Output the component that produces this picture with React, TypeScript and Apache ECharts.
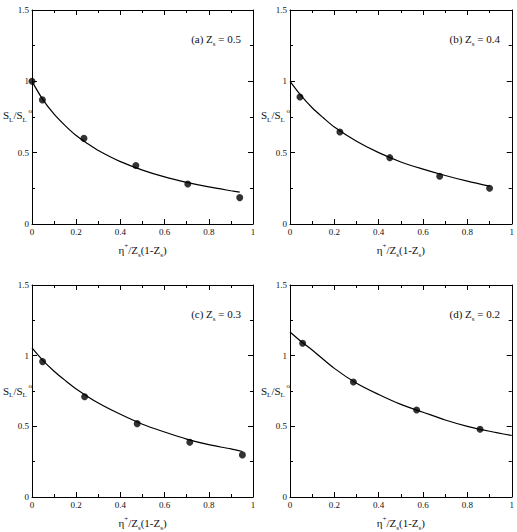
import React, { useEffect, useRef } from "react";
import * as echarts from "echarts";

// Panel (a) Zs = 0.5
const aPointsX = [0, 0.047, 0.235, 0.47, 0.705, 0.94];
const aPointsY = [1.0, 0.87, 0.6, 0.41, 0.28, 0.185];
const aCurveX = [0, 0.05, 0.1, 0.15, 0.2, 0.25, 0.3, 0.4, 0.5, 0.6, 0.7, 0.8, 0.9, 0.94];
const aCurveY = [1.0, 0.87, 0.77, 0.69, 0.62, 0.565, 0.515, 0.437, 0.378, 0.33, 0.292, 0.26, 0.233, 0.223];

// Panel (b) Zs = 0.4
const bPointsX = [0.045, 0.225, 0.45, 0.675, 0.9];
const bPointsY = [0.89, 0.645, 0.465, 0.335, 0.25];
const bCurveX = [0, 0.05, 0.1, 0.15, 0.2, 0.3, 0.4, 0.5, 0.6, 0.7, 0.8, 0.9];
const bCurveY = [1.0, 0.9, 0.815, 0.745, 0.68, 0.58, 0.5, 0.435, 0.385, 0.34, 0.3, 0.265];

// Panel (c) Zs = 0.3
const cPointsX = [0.048, 0.238, 0.476, 0.714, 0.952];
const cPointsY = [0.958, 0.709, 0.519, 0.388, 0.298];
const cCurveX = [0, 0.05, 0.1, 0.15, 0.2, 0.3, 0.4, 0.5, 0.6, 0.7, 0.8, 0.9, 0.952];
const cCurveY = [1.055, 0.965, 0.89, 0.825, 0.765, 0.665, 0.585, 0.515, 0.46, 0.41, 0.37, 0.34, 0.322];

// Panel (d) Zs = 0.2
const dPointsX = [0.057, 0.286, 0.571, 0.857];
const dPointsY = [1.088, 0.814, 0.616, 0.479];
const dCurveX = [0, 0.05, 0.1, 0.2, 0.3, 0.4, 0.5, 0.6, 0.7, 0.8, 0.9, 1.0];
const dCurveY = [1.167, 1.1, 1.04, 0.91, 0.805, 0.725, 0.655, 0.6, 0.545, 0.5, 0.465, 0.435];

const panelLabels = ["(a)", "(b)", "(c)", "(d)"];
const zsValues = ["0.5", "0.4", "0.3", "0.2"];

const FONT = "'Liberation Serif', 'Times New Roman', serif";
const INK = "#111";

const zip = (xs: number[], ys: number[]) => xs.map((x, i) => [x, ys[i]]);

export default function App() {
  const ref = useRef<HTMLDivElement>(null);

  useEffect(() => {
    if (!ref.current) return;
    const chart = echarts.init(ref.current, undefined, { renderer: "svg" });

    const panels = [
      { px: aPointsX, py: aPointsY, cx: aCurveX, cy: aCurveY, grid: { left: 32, top: 10, width: 221, height: 214 } },
      { px: bPointsX, py: bPointsY, cx: bCurveX, cy: bCurveY, grid: { left: 290, top: 10, width: 222, height: 214 } },
      { px: cPointsX, py: cPointsY, cx: cCurveX, cy: cCurveY, grid: { left: 32, top: 285, width: 221, height: 215 } },
      { px: dPointsX, py: dPointsY, cx: dCurveX, cy: dCurveY, grid: { left: 290, top: 285, width: 222, height: 215 } },
    ];

    const rich = {
      m: { fontFamily: FONT, fontSize: 11, color: INK, fill: INK, lineHeight: 16 },
      sub: { fontFamily: FONT, fontSize: 7, color: INK, fill: INK, verticalAlign: "bottom", lineHeight: 16 },
      sup: { fontFamily: FONT, fontSize: 7, color: INK, fill: INK, verticalAlign: "top", lineHeight: 16 },
    } as any;

    const grids: any[] = [];
    const xAxes: any[] = [];
    const yAxes: any[] = [];
    const series: any[] = [];
    const graphics: any[] = [];

    const axisLine = { show: true, onZero: false, lineStyle: { color: "#000", width: 1 } };
    const axisTick = { show: true, inside: true, length: 5, lineStyle: { color: "#000", width: 1 } };
    const minorTick = { show: true, splitNumber: 2, length: 3, lineStyle: { color: "#000", width: 1 } };
    const axisLabel = { show: true, fontFamily: FONT, fontSize: 9, color: INK, margin: 3 };

    panels.forEach((p, i) => {
      grids.push({ ...p.grid, containLabel: false });
      const xCommon = {
        type: "value",
        gridIndex: i,
        min: 0,
        max: 1,
        interval: 0.2,
        axisLine,
        axisTick,
        minorTick,
        splitLine: { show: false },
      };
      xAxes.push({
        ...xCommon,
        position: "bottom",
        axisLabel,
        name: "{m|η}{sup|+}{m|/Z}{sub|s}{m|(1-Z}{sub|s}{m|)}",
        nameLocation: "middle",
        nameGap: 18,
        nameTextStyle: { fontFamily: FONT, fontSize: 11, color: INK, rich },
      });
      xAxes.push({ ...xCommon, position: "top", axisLabel: { show: false } });
      const yCommon = {
        type: "value",
        gridIndex: i,
        min: 0,
        max: 1.5,
        interval: 0.5,
        axisLine,
        axisTick,
        minorTick,
        splitLine: { show: false },
      };
      yAxes.push({ ...yCommon, position: "left", axisLabel });
      yAxes.push({ ...yCommon, position: "right", axisLabel: { show: false } });

      series.push({
        type: "line",
        xAxisIndex: i * 2,
        yAxisIndex: i * 2,
        data: zip(p.cx, p.cy),
        showSymbol: false,
        smooth: 0.3,
        lineStyle: { color: "#000", width: 1.2 },
        z: 2,
      });
      series.push({
        type: "scatter",
        xAxisIndex: i * 2,
        yAxisIndex: i * 2,
        data: zip(p.px, p.py),
        symbol: "circle",
        symbolSize: 7,
        itemStyle: { color: "#000" },
        z: 3,
      });

      const g = p.grid;
      graphics.push({
        type: "text",
        x: g.left - 29,
        y: g.top + g.height * 0.5 - 2,
        style: {
          text: "{m|S}{sub|L}{m|/S}{sub|L}{sup| o}",
          rich,
          fill: INK,
          verticalAlign: "middle",
          align: "left",
        },
      });
      graphics.push({
        type: "text",
        x: g.left + g.width - 12,
        y: g.top + 29,
        style: {
          text: `{m|${panelLabels[i]} Z}{sub|s}{m| = ${zsValues[i]}}`,
          rich,
          fill: INK,
          verticalAlign: "middle",
          align: "right",
        },
      });
    });

    chart.setOption({
      animation: false,
      backgroundColor: "#fff",
      grid: grids,
      xAxis: xAxes,
      yAxis: yAxes,
      series,
      graphic: graphics,
    });

    return () => chart.dispose();
  }, []);

  return (
    <div
      ref={ref}
      style={{ position: "fixed", left: 0, top: 0, width: 517, height: 532, background: "#fff" }}
    />
  );
}
